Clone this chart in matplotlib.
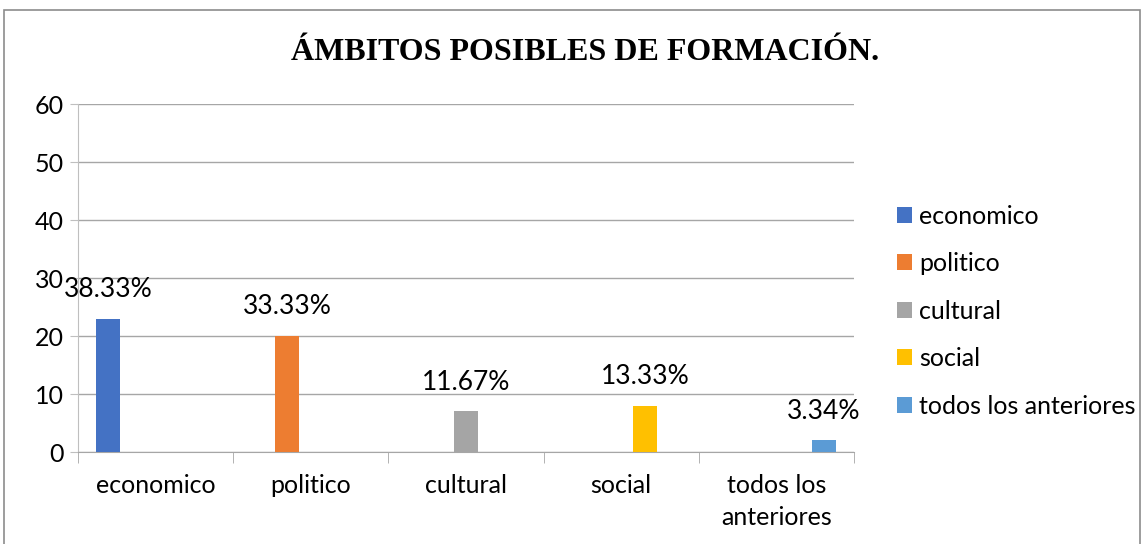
import numpy as np
import matplotlib.pyplot as plt
from matplotlib.patches import Rectangle

# data
categories = ['economico', 'politico', 'cultural', 'social', 'todos los\nanteriores']
series = ['economico', 'politico', 'cultural', 'social', 'todos los anteriores']
values = [23, 20, 7, 8, 2]
value_labels = ['38.33%', '33.33%', '11.67%', '13.33%', '3.34%']
colors = ['#4472C4', '#ED7D31', '#A5A5A5', '#FFC000', '#5B9BD5']
yticks = [0, 10, 20, 30, 40, 50, 60]

plt.rcParams['font.family'] = ['Lato', 'DejaVu Sans']

fig = plt.figure(figsize=(11.45, 5.44), dpi=100)
ax = fig.add_axes([0.0681, 0.1691, 0.6777, 0.6397])

n = len(series)
bar_w = 1 / (n + 1.5)
x = np.arange(len(categories))
for i, (name, val, lab, col) in enumerate(zip(series, values, value_labels, colors)):
    pos = x[i] + (i - (n - 1) / 2) * bar_w
    ax.bar(pos, val, width=bar_w, color=col, label=name, zorder=3)
    ax.annotate(lab, (pos, val), xytext=(0, 12), textcoords='offset points',
                ha='center', va='bottom', fontsize=19, color='#000000')

ax.set_xlim(-0.5, len(categories) - 0.5)
ax.set_ylim(0, 60)
ax.set_yticks(yticks)
ax.tick_params(axis='y', length=6, color='#bfbfbf', labelsize=18, pad=4)
ax.yaxis.grid(True, color='#a6a6a6', linewidth=1, zorder=0)

ax.set_xticks(x)
ax.set_xticklabels(categories, fontsize=18, linespacing=1.45)
ax.tick_params(axis='x', length=0, pad=16)
ax.set_xticks(np.arange(len(categories) + 1) - 0.5, minor=True)
ax.tick_params(axis='x', which='minor', length=8, color='#a6a6a6')

for s in ['top', 'right']:
    ax.spines[s].set_visible(False)
ax.spines['left'].set_color('#bfbfbf')
ax.spines['bottom'].set_color('#a6a6a6')

leg = fig.legend(loc='center left', bbox_to_anchor=(0.7637, 0.428), frameon=False,
                 fontsize=18, handlelength=0.6, handleheight=0.6,
                 handletextpad=0.3, labelspacing=0.98)

fig.text(0.511, 0.903, 'ÁMBITOS POSIBLES DE FORMACIÓN.', ha='center', va='center',
         fontsize=23, fontweight='bold', family='Liberation Serif')

fig.patches.append(Rectangle((0.0035, -0.05), 0.9925, 1.031, transform=fig.transFigure,
                             fill=False, edgecolor='#8c8c8c', linewidth=1.2))

plt.savefig('out.png', dpi=100)
